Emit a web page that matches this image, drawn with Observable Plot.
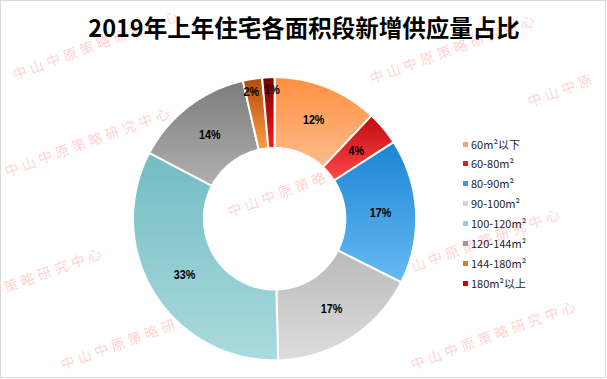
<!DOCTYPE html>
<html>
<head>
<meta charset="utf-8">
<script src="https://cdn.jsdelivr.net/npm/d3@7"></script>
<script src="https://cdn.jsdelivr.net/npm/@observablehq/plot@0.6"></script>
<style>
  html, body { margin: 0; padding: 0; background: #fff; }
  #wrap { position: relative; width: 606px; height: 378px; box-sizing: border-box; border: 1px solid #d9d9d9; overflow: hidden; background: #fff; }
  #title { position: absolute; left: 0; width: 606px; top: 14px; text-align: center; font-family: "Noto Sans CJK SC", sans-serif; font-weight: 700; font-size: 23.5px; line-height: 25px; color: #000; z-index: 3; }
  #wm { position: absolute; left: -1px; top: -1px; z-index: 0; }
  #chart { position: absolute; left: -1px; top: -1px; z-index: 1; }
  #chart svg { background: transparent !important; }
  #legend { position: absolute; left: 0; top: 0; z-index: 2; font-family: "Noto Sans CJK SC", sans-serif; font-size: 11px; color: #262626; }
  .li { position: absolute; white-space: nowrap; line-height: 14px; }
  .sw { display: inline-block; width: 5px; height: 5px; margin-right: 3px; vertical-align: 2px; }
</style>
</head>
<body>
<div id="wrap">
  <div id="title">2019年上年住宅各面积段新增供应量占比</div>
  <div id="chart"></div>
  <div id="legend"></div>
</div>
<script>
// ---- data ----
const categories = ["60m²以下", "60-80m²", "80-90m²", "90-100m²", "100-120m²", "120-144m²", "144-180m²", "180m²以上"];
const shares = [12.0, 3.9, 16.5, 17.2, 33.1, 13.7, 2.2, 1.4];
const labels = ["12%", "4%", "17%", "17%", "33%", "14%", "2%", "1%"];
// ---- styles ----
const gradTop = ["#ff9040", "#bf0a10", "#1c84d4", "#bababa", "#72bcc2", "#7c7c7c", "#b04c06", "#6e0000"];
const gradBottom = ["#ffbb8c", "#ff4848", "#66baf3", "#dddddd", "#abdbde", "#b0b0b0", "#ff9c48", "#ff1c1c"];
const legendColors = ["#f6a368", "#e02020", "#3d9be9", "#d2d2d2", "#8fd0d3", "#9a9a9a", "#ea772c", "#d00000"];
const watermarkText = "中山中原策略研究中心";

const W = 607, H = 379;
const cx = 275, cy = 219, R = 142, innerRatio = 0.5;

// build slice polygons from the shares
const total = d3.sum(shares);
const poly = [];
const labelPts = [];
let cum = 0;
shares.forEach((v, i) => {
  const a0 = cum / total * 2 * Math.PI;
  cum += v;
  const a1 = cum / total * 2 * Math.PI;
  const n = Math.max(2, Math.ceil((a1 - a0) / (Math.PI / 360)));
  for (let k = 0; k <= n; k++) {
    const a = a0 + (a1 - a0) * k / n;
    poly.push({key: i, x: Math.sin(a), y: Math.cos(a), fill: `url(#g${i})`});
  }
  for (let k = n; k >= 0; k--) {
    const a = a0 + (a1 - a0) * k / n;
    poly.push({key: i, x: innerRatio * Math.sin(a), y: innerRatio * Math.cos(a), fill: `url(#g${i})`});
  }
  const am = (a0 + a1) / 2;
  const small = v < 3;
  const lr = small ? 0.91 : (1 + innerRatio) / 2;
  labelPts.push({x: lr * Math.sin(am), y: lr * Math.cos(am), text: labels[i], small});
});
// push apart neighbouring labels of thin slices so they do not sit on each other
const minGap = 21 / R;
for (let i = 0; i < labelPts.length - 1; i++) {
  const p = labelPts[i], q = labelPts[i + 1];
  if (!p.small || !q.small) continue;
  const dx = q.x - p.x, dy = q.y - p.y, d = Math.hypot(dx, dy);
  if (d < minGap) {
    const s = (minGap - d) / 2 / d;
    p.x -= dx * s; p.y -= dy * s;
    q.x += dx * s; q.y += dy * s;
  }
}

const defs = () => {
  const d = d3.create("svg:defs");
  gradTop.forEach((c, i) => {
    const g = d.append("linearGradient").attr("id", `g${i}`).attr("x1", 0).attr("y1", 0).attr("x2", 0).attr("y2", 1);
    g.append("stop").attr("offset", "0%").attr("stop-color", c);
    g.append("stop").attr("offset", "100%").attr("stop-color", gradBottom[i]);
  });
  return d.node();
};

const plot = Plot.plot({
  width: W, height: H,
  marginTop: 0, marginRight: 0, marginBottom: 0, marginLeft: 0,
  x: {domain: [-1, 1], range: [cx - R, cx + R], axis: null},
  y: {domain: [-1, 1], range: [cy + R, cy - R], axis: null},
  color: {type: "identity"},
  style: {background: "transparent", overflow: "visible"},
  marks: [
    defs,
    Plot.line(poly, {x: "x", y: "y", z: "key", fill: "fill", stroke: "white", strokeWidth: 2, strokeLinejoin: "miter", curve: "linear-closed"}),
    Plot.text(labelPts, {x: "x", y: "y", text: "text", fill: "#000", fontWeight: "bold", fontSize: 13.5, fontFamily: "'Liberation Sans', Arial, sans-serif"})
  ]
});
document.getElementById("chart").appendChild(plot);
// condense the slice labels horizontally, as in the reference
plot.querySelectorAll("text").forEach(t => {
  const len = t.getComputedTextLength();
  if (len > 0) {
    t.setAttribute("textLength", (len * 0.8).toFixed(1));
    t.setAttribute("lengthAdjust", "spacingAndGlyphs");
  }
});

// legend
const leg = document.getElementById("legend");
categories.forEach((c, i) => {
  const el = document.createElement("div");
  el.className = "li";
  el.style.left = "462px";
  el.style.top = (135.5 + i * 19.9) + "px";
  el.innerHTML = `<span class="sw" style="background:${legendColors[i]}"></span>${c}`;
  leg.appendChild(el);
});

// watermarks (background decoration): characters laid out along a -20° line
const wmList = [
  [15, 80, watermarkText], [7, 177, watermarkText], [230, 217, watermarkText],
  [6, 293, watermarkText.slice(4)], [63, 370, watermarkText], [372, 84, watermarkText],
  [530, 107, watermarkText.slice(0, 4)], [397, 278, watermarkText], [413, 370, watermarkText]
];
const step = 17.8, ang = -20 * Math.PI / 180;
const chars = [];
wmList.forEach(([l, t, s]) => {
  [...s].forEach((ch, k) => chars.push({x: l + k * step * Math.cos(ang), y: t + k * step * Math.sin(ang), ch}));
});
const wm = d3.create("svg").attr("id", "wm").attr("width", W).attr("height", H);
wm.selectAll("text").data(chars).join("text")
  .attr("x", d => d.x.toFixed(1))
  .attr("y", d => d.y.toFixed(1))
  .attr("transform", d => `rotate(-20 ${d.x.toFixed(1)} ${d.y.toFixed(1)})`)
  .attr("font-family", "'Noto Sans CJK SC', sans-serif")
  .attr("font-size", 14)
  .attr("fill", "rgba(255,110,110,0.33)")
  .text(d => d.ch);
const wrap = document.getElementById("wrap");
wrap.insertBefore(wm.node(), wrap.firstChild);
</script>
</body>
</html>
